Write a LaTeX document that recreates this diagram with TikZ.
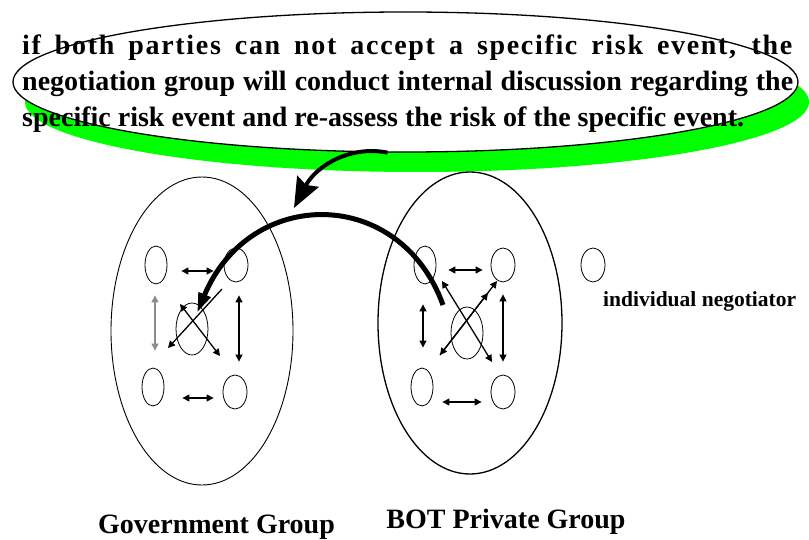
\documentclass[tikz,border=0pt]{standalone}
\usepackage{fontspec}
\setmainfont{Liberation Serif}
\usepackage{tikz}
\usetikzlibrary{arrows.meta,shapes.geometric}
\definecolor{shadowgreen}{HTML}{00FF00}
\definecolor{linkgray}{HTML}{8C8C8C}

\begin{document}
\begin{tikzpicture}[x=1pt,y=-1pt,>={Triangle[length=7pt,width=7pt]},
  person/.style={draw,ellipse,line width=0.8pt,inner sep=0pt,minimum width=22pt,minimum height=38pt},
  wide/.style={person,minimum width=24pt,minimum height=34pt},
  core/.style={person,minimum width=32pt,minimum height=52pt},
  link/.style={<->,line width=1.3pt},
  big/.style={font=\bfseries\fontsize{28}{34}\selectfont,inner sep=0pt}]
  \useasboundingbox (0,0) rectangle (809,540);

  % callout with its shadow
  \fill[shadowgreen] (417,102) ellipse [x radius=392,y radius=70];
  \node[draw,ellipse,fill=white,line width=1.3pt,inner sep=0pt,
        minimum width=785pt,minimum height=140pt] (note) at (405.5,82) {};
  \node[big,anchor=base west] (line1) at (22,55)
    {\addfontfeatures{LetterSpace=6}\makebox[770pt][s]{if both parties can not accept a specific risk event, the}};
  \node[big,anchor=base west] (line2) at (22,91)
    {\makebox[771pt][s]{negotiation group will conduct internal discussion regarding the}};
  \node[big,anchor=base west] (line3) at (22,127)
    {specific risk event and re-assess the risk of the specific event.};

  % the two groups
  \draw[line width=0.9pt] (202,331) ellipse [x radius=91,y radius=154];
  \draw[line width=1.3pt] (470,323) ellipse [x radius=92,y radius=151];

  \node[person] (g-tl) at (156,265) {};
  \node[wide]   (g-tr) at (236,265) {};
  \node[core]   (g-c)  at (192,329) {};
  \node[person] (g-bl) at (153,387) {};
  \node[wide]   (g-br) at (235,392) {};

  \node[person] (p-tl) at (425,265) {};
  \node[wide]   (p-tr) at (503,265) {};
  \node[core]   (p-c)  at (467,333) {};
  \node[person] (p-bl) at (422,387) {};
  \node[wide]   (p-br) at (503,392) {};

  % talks inside the government group
  \draw[link] ([shift={(14,6)}]g-tl.east) -- ([shift={(-10,6)}]g-tr.west);
  \draw[link] ([shift={(18,11)}]g-bl.east) -- ([shift={(-9,6)}]g-br.west);
  \draw[link,linkgray] ([shift={(-1,11)}]g-tl.south) -- ([shift={(2,-17)}]g-bl.north);
  \draw[link] ([shift={(3,13)}]g-tr.south) -- ([shift={(4,-13)}]g-br.north);
  \draw[link] ([shift={(-12,-25)}]g-c.center) -- ([shift={(28,27)}]g-c.center);
  \draw[->,line width=1.3pt] ([shift={(30,-40)}]g-c.center) -- ([shift={(-24,19)}]g-c.center);

  % talks inside the private group
  \draw[link] ([shift={(12,5)}]p-tl.east) -- ([shift={(-8,5)}]p-tr.west);
  \draw[link] ([shift={(9,15)}]p-bl.east) -- ([shift={(-9,10)}]p-br.west);
  \draw[link] ([shift={(-2,20)}]p-tl.south) -- ([shift={(1,-20)}]p-bl.north);
  \draw[link] ([shift={(0,12)}]p-tr.south) -- ([shift={(0,-13)}]p-br.north);
  \draw[link] ([shift={(-25,-52)}]p-c.center) -- ([shift={(25,29)}]p-c.center);
  \draw[link] ([shift={(-27,22)}]p-c.center) -- ([shift={(30,-52)}]p-c.center);
  \draw[->,line width=1.3pt] ([shift={(-27,22)}]p-c.center) -- ([shift={(21,-40)}]p-c.center);

  % feedback arrows
  \coordinate (drop) at (294,208);
  \draw[line width=4pt,-{Stealth[length=30pt,width=24pt,inset=4pt]}]
    ([xshift=-18pt]note.south) .. controls (350,145) and (316,166) .. (drop);
  \draw[line width=5pt,-{Triangle[length=20pt,width=12pt]}]
    ([shift={(-24,-28)}]p-c.center) .. controls (400,186) and (250,186) .. ([shift={(5,-16)}]g-c.center);

  % key
  \node[wide] (key) at (593,265) {};
  \node[anchor=base west,inner sep=0pt,font=\bfseries\fontsize{21.5}{26}\selectfont] (keytext) at (603,306) {individual negotiator};

  \node[big,anchor=base] (gov) at (216.5,533) {Government Group};
  \node[big,anchor=base] (bot) at (506,528) {BOT Private Group};
\end{tikzpicture}
\end{document}
